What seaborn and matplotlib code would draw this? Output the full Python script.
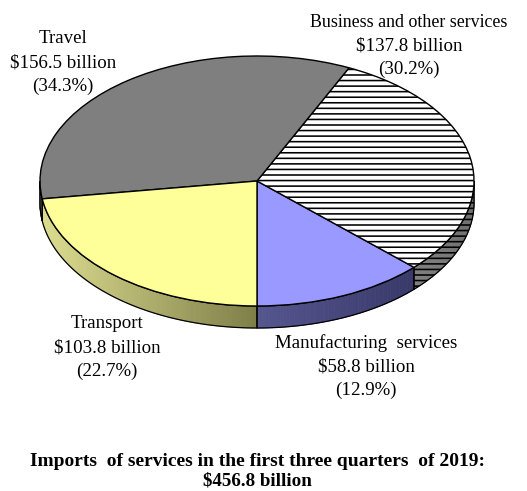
import numpy as np
import seaborn as sns
import matplotlib
matplotlib.use("Agg")
import matplotlib.pyplot as plt
from matplotlib.colors import to_rgb

# Data, counter-clockwise from the bottom of the pie
categories = ["Manufacturing  services", "Business and other services", "Travel", "Transport"]
values = [58.8, 137.8, 156.5, 103.8]
shares = [12.9, 30.2, 34.3, 22.7]
title_lines = ["Imports  of services in the first three quarters  of 2019:", "$456.8 billion"]

colors = ["#9999ff", "#ffffff", "#7f7f7f", "#ffff99"]
wall_left = ["#56568f", "#808080", "#6a6a6a", "#dcdc90"]
wall_right = ["#38386a", "#707070", "#6a6a6a", "#7d7d48"]
label_px = [(366, 367), (409, 46), (63, 62.5), (107, 347.5)]
name_size = [13.6, 12.9, 13.6, 13.6]
title_size = [14.0, 13.7]

sns.set_theme(style="white")
plt.rcParams["font.family"] = ["Liberation Serif", "DejaVu Serif"]
plt.rcParams["hatch.linewidth"] = 1.15

W, H = 527, 491
CX, CY, RX, RY, DEPTH = 257, 181, 217, 125, 22
fig = plt.figure(figsize=(W / 100, H / 100), dpi=100)
ax = fig.add_axes([0, 0, 1, 1])

wedges, _ = ax.pie(values, colors=colors, startangle=270, counterclock=True, radius=1,
                   wedgeprops=dict(edgecolor="black", linewidth=1.0, zorder=5), normalize=True)
wedges[1].set_hatch("---")
ax.set_aspect("auto")
ax.set_xlim(-CX / RX, (W - CX) / RX)
ax.set_ylim((CY - H) / RY, CY / RY)
ax.axis("off")

depth = DEPTH / RY
for w, cl, cr in zip(wedges, wall_left, wall_right):
    for a, b in [(w.theta1, w.theta2), (w.theta1 - 360, w.theta2 - 360)]:
        a, b = max(a, 180), min(b, 360)
        if b <= a:
            continue
        t = np.radians(np.linspace(a, b, 61))
        x, y = np.cos(t), np.sin(t)
        c0, c1 = np.array(to_rgb(cl)), np.array(to_rgb(cr))
        for i in range(60):
            f = (x[i] - x[0]) / max(x[-1] - x[0], 1e-6)
            col = c0 + (c1 - c0) * np.clip(f, 0, 1)
            ax.fill([x[i], x[i + 1], x[i + 1], x[i]],
                    [y[i], y[i + 1], y[i + 1] - depth, y[i] - depth],
                    color=col, lw=0.6, zorder=2)
        xx = np.r_[x, x[::-1]]
        yy = np.r_[y, (y - depth)[::-1]]
        hatch = "---" if w is wedges[1] else None
        ax.fill(xx, yy, facecolor="none", edgecolor="black", linewidth=0.9, hatch=hatch, zorder=3)

for (px, py), name, size, val, share in zip(label_px, categories, name_size, values, shares):
    lines = [name, f"\\${val:.1f} billion", f"({share:.1f}%)"]
    for k, (line, fs) in enumerate(zip(lines, [size, 13.6, 13.6])):
        ax.text((px - CX) / RX, (CY - (py + (k - 1) * 23.7)) / RY, line,
                ha="center", va="center", fontsize=fs, color="black", zorder=6)

for yp, line, fs in zip((461, 481), title_lines, title_size):
    ax.text((257 - CX) / RX, (CY - yp) / RY, line.replace("$", "\\$"), ha="center", va="center",
            fontsize=fs, fontweight="bold", color="black")

fig.savefig("out.png", dpi=100, facecolor="white")
